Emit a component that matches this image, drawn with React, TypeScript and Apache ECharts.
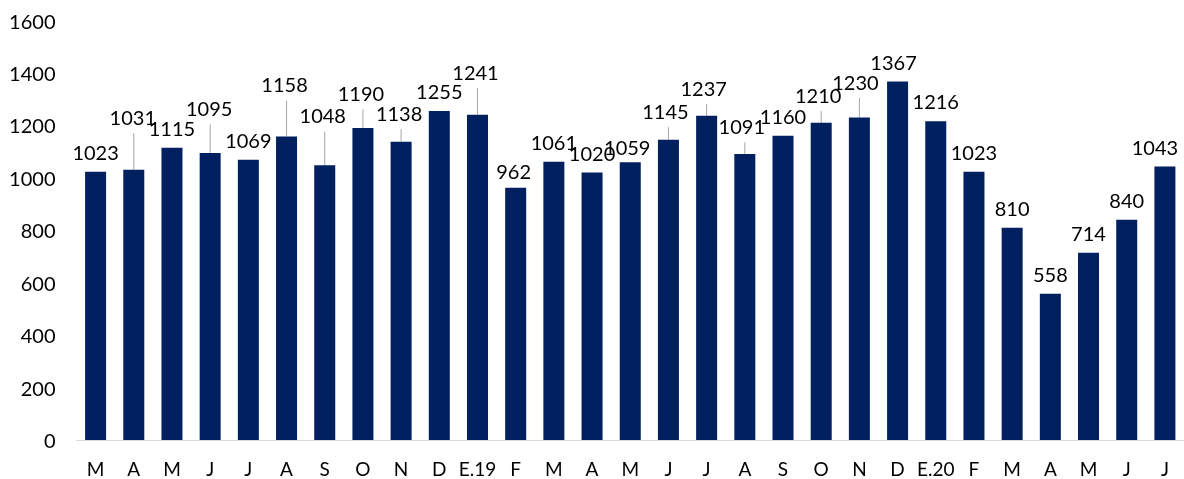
import React, { useEffect, useRef } from "react";
import * as echarts from "echarts";

const categories = ["M","A","M","J","J","A","S","O","N","D","E.19","F","M","A","M","J","J","A","S","O","N","D","E.20","F","M","A","M","J","J"];
const values = [1023,1031,1115,1095,1069,1158,1048,1190,1138,1255,1241,962,1061,1020,1059,1145,1237,1091,1160,1210,1230,1367,1216,1023,810,558,714,840,1043];
const yTicks = { min: 0, max: 1600, interval: 200 };

// label placement (layout only): [dx, dy] relative to the default "top" label position
const labelOffsets: number[][] = [
  [0,0],[-1,-33],[0,0],[-1,-25],[0,0],[-2,-32],[-2,-30],[-2,-15],[-2,-9],[0,0],
  [-2,-23],[-2,3],[0,0],[0,0],[-3,5],[-3,-9],[-3,-8],[-3,-8],[0,0],[-3,-8],
  [-4,-16],[-4,0],[0,0],[0,0],[0,0],[0,0],[0,0],[0,0],[-10,0]
];

const FONT = "Lato, 'Open Sans', sans-serif";

export default function App() {
  const ref = useRef<HTMLDivElement>(null);
  useEffect(() => {
    if (!ref.current) return;
    const chart = echarts.init(ref.current, null, { renderer: "svg" });
    const barData = values.map((v, i) => ({
      value: v,
      label: { offset: labelOffsets[i] },
    }));
    const lineData = values.map((v, i) => [i, v, labelOffsets[i][1]]);
    chart.setOption({
      animation: false,
      grid: { left: 76.5, right: -7, top: 20.5, bottom: 39, containLabel: false },
      xAxis: {
        type: "category",
        data: categories,
        axisTick: { show: false },
        axisLine: { show: true, lineStyle: { color: "#d9d9d9", width: 1 } },
        axisLabel: { interval: 0, color: "#000", fontSize: 19, lineHeight: 14, fontFamily: FONT, margin: 21 },
      },
      yAxis: {
        type: "value",
        min: yTicks.min,
        max: yTicks.max,
        interval: yTicks.interval,
        splitLine: { show: false },
        axisLine: { show: false },
        axisTick: { show: false },
        axisLabel: {
          color: "#000",
          fontSize: 20,
          fontFamily: FONT,
          margin: 21,
          padding: [6, 0, 0, 0],
          formatter: (v: number) => String(v),
        },
      },
      series: [
        {
          type: "bar",
          data: barData,
          barCategoryGap: "45%",
          itemStyle: { color: "#002060" },
          label: {
            show: true,
            position: "top",
            distance: 10,
            color: "#000",
            fontSize: 20,
            fontFamily: FONT,
          },
          z: 2,
        },
        {
          type: "custom",
          data: lineData,
          silent: true,
          z: 1,
          renderItem: (params: any, api: any) => {
            const dy = api.value(2);
            if (dy > -7) return null;
            const p = api.coord([api.value(0), api.value(1)]);
            return {
              type: "line",
              shape: { x1: p[0], y1: p[1], x2: p[0], y2: p[1] + dy - 3.6 },
              style: { stroke: "#a6a6a6", lineWidth: 1 },
            };
          },
        },
      ],
    });
    return () => chart.dispose();
  }, []);
  return <div ref={ref} style={{ position: "fixed", left: 0, top: 0, width: 1184, height: 479 }} />;
}
